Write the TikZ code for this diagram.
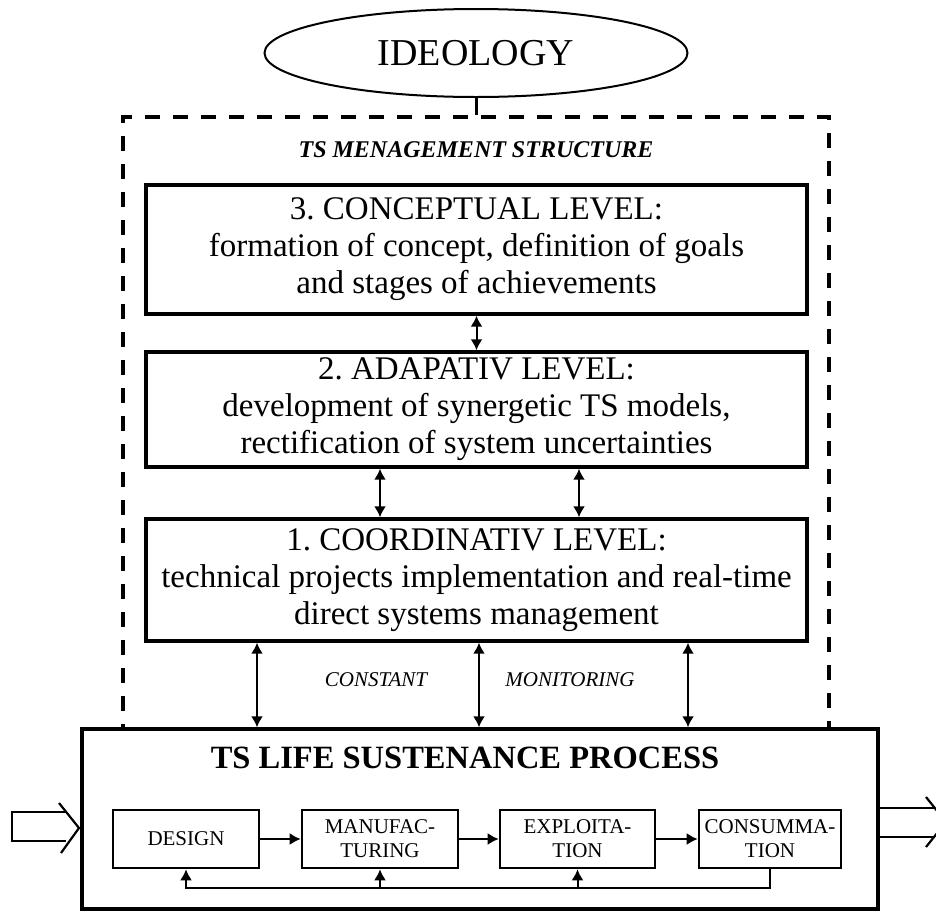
\documentclass[tikz,border=0pt]{standalone}
\usepackage{fontspec}
\setmainfont{Liberation Serif}
\usetikzlibrary{shapes.geometric,arrows.meta}
\frenchspacing

\begin{document}
\begin{tikzpicture}[x=1pt, y=-1pt, >={Latex[length=11pt,width=12pt]},
  level/.style={draw, line width=3.4pt, minimum width=661pt, inner sep=0pt, align=center, font=\fontsize{33}{37}\selectfont},
  stage/.style={draw, line width=2.6pt, minimum height=58pt, inner sep=0pt, align=center, font=\fontsize{21}{24}\selectfont},
  link/.style={<->, line width=2pt},
  flow/.style={->, line width=2pt},
  hollow/.style={line width=2.2pt}]
\useasboundingbox (0,0) rectangle (936,911);
\clip (0,0) rectangle (936,911);
\node[draw, ellipse, line width=2pt, minimum width=423pt, minimum height=88pt, inner sep=0pt,
  font=\fontsize{38}{40}\selectfont] (ideology) at (476,53) {IDEOLOGY};
\node[draw, dash pattern=on 15pt off 13pt, line width=4pt, minimum width=706pt, minimum height=613pt, inner sep=0pt] (mgmt) at (476,423.5) {};
\draw[line width=3pt] (ideology.south) -- (mgmt.north);
\node[font=\fontsize{24}{28}\selectfont\bfseries\itshape] (mgmttitle) at (476,150) {TS MENAGEMENT STRUCTURE};
\node[level, minimum height=129pt] (concept) at (476.5,249.5) {3. CONCEPTUAL LEVEL:\\ formation of concept, definition of goals\\ and stages of achievements};
\node[level, minimum height=115pt] (adapt) at (476.5,409.5) {2. ADAPATIV LEVEL:\\ development of synergetic TS models,\\ rectification of system uncertainties};
\node[level, minimum height=122pt] (coord) at (476.5,580) {1. COORDINATIV LEVEL:\\ technical projects implementation and real-time\\ direct systems management};
\node[draw, fill=white, line width=3.4pt, minimum width=796pt, minimum height=180pt, inner sep=0pt] (process) at (480,819) {};
\node[font=\fontsize{32.5}{36}\selectfont\bfseries] (proctitle) at (465,758) {TS LIFE SUSTENANCE PROCESS};
\node[stage, minimum width=146pt] (design) at (186,839) {DESIGN};
\node[stage, minimum width=156pt] (manuf) at (380,839) {MANUFAC-\\TURING};
\node[stage, minimum width=155pt] (explo) at (577.5,839) {EXPLOITA-\\TION};
\node[stage, minimum width=142pt] (consum) at (770,839) {CONSUMMA-\\TION};
\draw[link] (concept.south) -- (adapt.north);
\coordinate (lk1) at (380,0);
\coordinate (lk2) at (579,0);
\foreach \n in {1,2} \draw[link] (adapt.south -| lk\n) -- (coord.north -| lk\n);
\foreach \x/\n in {257/1, 479/2, 688/3} \coordinate (mon\n) at (\x,0);
\foreach \n in {1,2,3} \draw[link] (coord.south -| mon\n) -- (process.north -| mon\n);
\node[font=\fontsize{21}{24}\selectfont\itshape] (constant) at (376,680) {CONSTANT};
\node[font=\fontsize{21}{24}\selectfont\itshape] (monitor) at (570,680) {MONITORING};
\draw[flow] (design) -- (manuf);
\draw[flow] (manuf) -- (explo);
\draw[flow] (explo) -- (consum);
\coordinate (fb) at (0,888);
\draw[flow] (consum.south) -- (consum.south |- fb) -| (design.south);
\draw[flow] (manuf.south |- fb) -- (manuf.south);
\draw[flow] (explo.south |- fb) -- (explo.south);
\draw[hollow] (66,812) -- (12,812) -- (12,841) -- (66,841);
\draw[hollow] (59,803) -- (79,828) -- (61,853);
\draw[hollow] (process.east |- 0,808) -- (935,808);
\draw[hollow] (process.east |- 0,837) -- (934,837);
\draw[hollow] (926,797) -- (946,822) -- (926,847);
\end{tikzpicture}
\end{document}
